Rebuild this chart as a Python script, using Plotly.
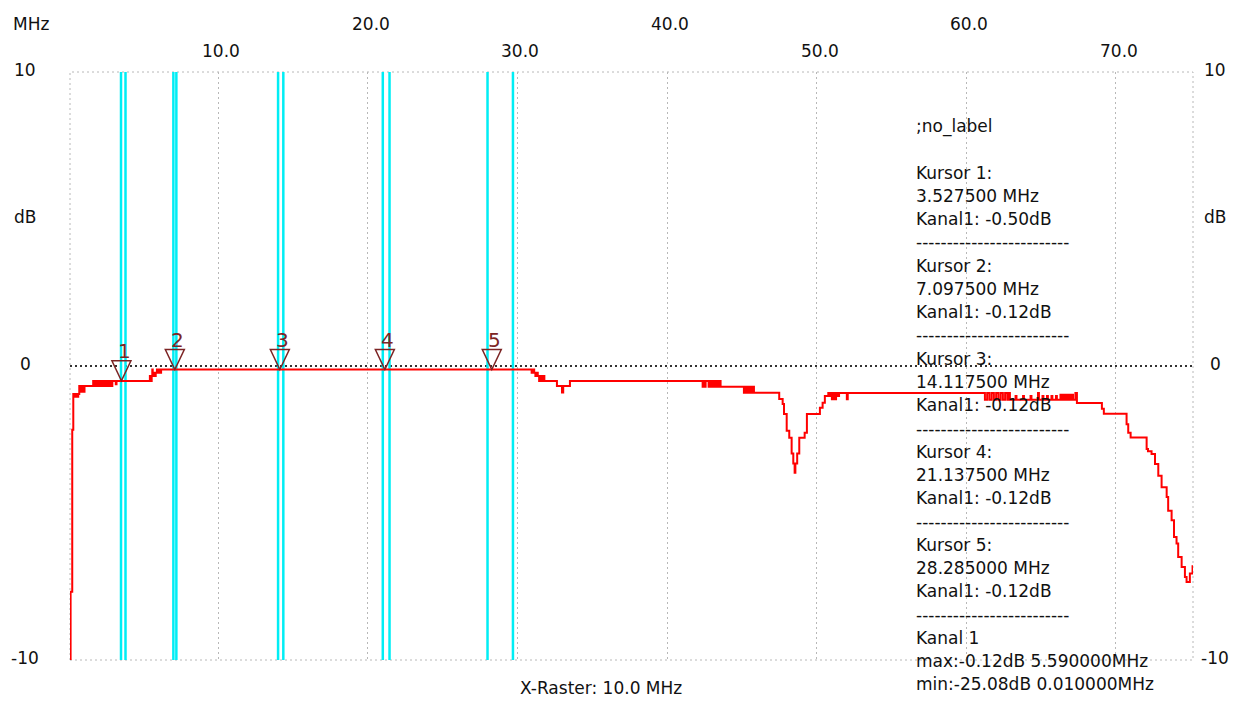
import plotly.graph_objects as go

# ---- sweep: frequency in MHz, level in dB (value changes at each listed frequency) ----
lf_mhz = [0.01, 0.13, 0.24, 0.31, 0.37, 0.42, 0.48, 0.54, 0.60, 0.64,
          0.71, 0.77, 0.82, 0.88, 0.94, 1.00, 1.06,
          1.64, 1.72, 1.80, 1.88, 1.96, 2.04, 2.12, 2.20, 2.28, 2.36, 2.44, 2.52,
          2.60, 2.68, 2.76, 2.84, 2.92, 2.98, 3.15, 3.20,
          5.43, 5.50, 5.55, 5.59, 5.62, 5.70, 5.76, 5.82, 5.90, 5.96, 6.05, 6.12, 6.18]
lf_db = [-25.08, -7.68, -2.17, -0.95, -1.05, -0.95, -1.05, -0.95, -1.05, -0.95,
         -0.68, -0.88, -0.68, -0.88, -0.68, -0.88, -0.68,
         -0.51, -0.68, -0.51, -0.68, -0.51, -0.68, -0.51, -0.68, -0.51, -0.68, -0.51, -0.68,
         -0.51, -0.68, -0.51, -0.68, -0.51, -0.51, -0.62, -0.51,
         -0.34, -0.51, -0.34, -0.12, -0.34, -0.23, -0.34, -0.23, -0.12, -0.23, -0.12, -0.23, -0.12]

mid_mhz = [30.95, 31.05, 31.12, 31.20, 31.28, 31.36, 31.45, 31.52, 31.60, 31.70, 31.80,
           32.64, 32.98, 33.06, 33.51]
mid_db = [-0.23, -0.12, -0.23, -0.34, -0.23, -0.34, -0.51, -0.34, -0.51, -0.34, -0.51,
          -0.68, -0.90, -0.68, -0.51]

upper_mhz = [42.38, 42.45, 42.52, 42.58, 42.78, 42.86, 42.94, 43.02, 43.10, 43.18, 43.26,
             43.34, 43.42, 43.50, 43.58, 43.67,
             45.14, 45.22, 45.30, 45.38, 45.46, 45.54, 45.62, 45.70, 45.81]
upper_db = [-0.71, -0.51, -0.71, -0.51, -0.71, -0.51, -0.71, -0.51, -0.71, -0.51, -0.71,
            -0.51, -0.71, -0.51, -0.71, -0.71,
            -0.91, -0.71, -0.91, -0.71, -0.91, -0.71, -0.91, -0.71, -0.91]

notch_mhz = [47.50, 47.73, 47.82, 48.00, 48.17, 48.33, 48.44, 48.53, 48.58, 48.70,
             48.84, 49.20, 49.35, 50.22, 50.40, 50.55, 50.78, 50.86, 50.94, 51.02,
             51.10, 51.20, 51.30, 51.40, 51.50, 52.02, 52.08]
notch_db = [-1.12, -1.29, -1.63, -2.20, -2.44, -2.98, -3.32, -3.63, -3.32, -2.98,
            -2.44, -2.27, -1.63, -1.42, -1.25, -1.02, -0.92, -1.02, -0.92, -1.13,
            -0.92, -1.13, -0.92, -1.02, -0.92, -1.13, -0.92]

top_mhz = [61.25, 61.40, 61.55, 61.70, 61.85, 62.00, 62.15, 62.30, 62.45, 62.60, 62.75, 62.85, 62.92,
           63.30, 63.36, 63.80, 63.86, 64.30, 64.36,
           64.80, 64.86, 65.10, 65.16, 65.40, 65.46, 65.70, 65.76, 66.00, 66.06,
           66.30, 66.42, 66.54, 66.66, 66.78, 66.90, 67.02, 67.14, 67.30, 67.40,
           69.07, 69.20, 70.72, 70.83, 70.99,
           72.06, 72.15, 72.39, 72.62, 72.84, 73.06, 73.40, 73.50, 73.73, 73.89,
           74.06, 74.17, 74.40, 74.62, 74.73, 74.95, 75.13]
top_db = [-1.15, -0.92, -1.15, -0.92, -1.15, -0.92, -1.15, -0.92, -1.15, -0.92, -1.15, -0.92, -1.15,
          -1.02, -1.15, -1.02, -1.15, -1.02, -1.15,
          -0.92, -1.15, -1.02, -1.15, -1.02, -1.15, -1.02, -1.15, -1.02, -1.15,
          -0.98, -1.15, -0.98, -1.15, -0.98, -1.15, -0.98, -1.15, -0.92, -1.26,
          -1.45, -1.62, -1.98, -2.27, -2.43,
          -2.82, -2.90, -2.99, -3.33, -3.73, -4.12, -4.46, -4.92, -5.25, -5.82,
          -6.04, -6.50, -6.84, -7.18, -7.35, -7.06, -6.78]

# ---- cursors ----
cursor_ids = ["1", "2", "3", "4", "5"]
cursor_mhz = [3.5275, 7.0975, 14.1175, 21.1375, 28.285]
cursor_db = [-0.50, -0.12, -0.12, -0.12, -0.12]

# ---- channel summary ----
max_db, max_mhz = -0.12, 5.59
min_db, min_mhz = -25.08, 0.01

# ---- amateur band edges (MHz) ----
band_edges_mhz = [3.5, 3.8, 7.0, 7.2, 14.0, 14.35, 21.0, 21.45, 28.0, 29.7]

# ---- axis labels ----
x_tick_vals = [10, 20, 30, 40, 50, 60, 70]
x_tick_text = ["10.0", "20.0", "30.0", "40.0", "50.0", "60.0", "70.0"]
y_tick_vals = [10, 5, 0, -10]
y_tick_text = ["10", "dB", "0", "-10"]
x_unit = "MHz"
x_raster = "X-Raster: 10.0 MHz"
trace_label = ";no_label"

freq = lf_mhz + mid_mhz + upper_mhz + notch_mhz + top_mhz
level = lf_db + mid_db + upper_db + notch_db + top_db
assert len(freq) == len(level)

W, H = 1240, 702
L, R, T, B = 70, 47, 72, 42
PW, PH = W - L - R, H - T - B

FONT = "DejaVu Sans"
FS = 17
TXT = "#111111"
MAROON = "#7c2424"


def px_x(px):
    return (px - L) / PW


def px_y(py):
    return (H - B - py) / PH


def label(**kw):
    kw.setdefault("showarrow", False)
    kw.setdefault("xanchor", "center")
    kw.setdefault("yanchor", "middle")
    kw.setdefault("font", dict(family=FONT, size=FS, color=TXT))
    return kw


fig = go.Figure()

fig.add_trace(go.Scatter(
    x=freq, y=level, mode="lines", line=dict(color="#ff0000", width=2, shape="hv"),
    hoverinfo="skip", showlegend=False,
))

shapes = []
# dotted frame
shapes.append(dict(type="rect", xref="paper", yref="paper", x0=0, x1=1, y0=0, y1=1,
                   line=dict(color="#b8b8b8", width=1, dash="2px,3px"), layer="below"))
# 0 dB reference
shapes.append(dict(type="line", xref="paper", yref="y", x0=0, x1=1, y0=0, y1=0,
                   line=dict(color="#333333", width=2, dash="2px,3px"), layer="below"))
# band edges
for f in band_edges_mhz:
    shapes.append(dict(type="line", xref="x", yref="paper", x0=f, x1=f, y0=0, y1=1,
                       line=dict(color="#00eef5", width=2.5), layer="below"))
# cursor triangles, tip on the measured value
for f, v in zip(cursor_mhz, cursor_db):
    shapes.append(dict(type="path", xref="x", yref="y", xsizemode="pixel", ysizemode="pixel",
                       xanchor=f, yanchor=v, path="M -9.5,20 L 9.5,20 L 0,0 Z",
                       line=dict(color=MAROON, width=1.5), layer="above"))

ann = []
for cid, f, v in zip(cursor_ids, cursor_mhz, cursor_db):
    ann.append(label(x=f, y=v, xref="x", yref="y", text=cid, xshift=3, yshift=30,
                     font=dict(family=FONT, size=20, color=MAROON)))

# top frequency labels on two staggered rows
for i, (xv, xt) in enumerate(zip(x_tick_vals, x_tick_text)):
    row_py = 51 if i % 2 == 0 else 24
    ann.append(label(x=xv, y=px_y(row_py), xref="x", yref="paper", text=xt, xshift=3))
ann.append(label(x=px_x(31), y=px_y(24), xref="paper", yref="paper", text=x_unit))

# level labels on both sides
for yv, yt in zip(y_tick_vals, y_tick_text):
    for side_px in (25, 1215):
        ann.append(label(x=px_x(side_px), y=yv, xref="paper", yref="y", text=yt, yshift=2))

ann.append(label(x=px_x(601), y=px_y(688), xref="paper", yref="paper", text=x_raster))

# cursor read-out block
dashes = "-" * 25
info = [trace_label, ""]
for cid, f, v in zip(cursor_ids, cursor_mhz, cursor_db):
    info += [f"Kursor {cid}:", f"{f:.6f} MHz", f"Kanal1: {v:.2f}dB", dashes]
info += ["Kanal 1",
         f"max:{max_db:.2f}dB {max_mhz:.6f}MHz",
         f"min:{min_db:.2f}dB {min_mhz:.6f}MHz"]
for i, line in enumerate(info):
    if not line:
        continue
    ann.append(label(x=px_x(914), y=px_y(126 + 23.27 * i), xref="paper", yref="paper",
                     text=line, xanchor="left"))

fig.update_layout(
    width=W, height=H,
    margin=dict(l=L, r=R, t=T, b=B, pad=0),
    paper_bgcolor="white", plot_bgcolor="white",
    shapes=shapes, annotations=ann,
    xaxis=dict(range=[0.09, 75.16], tickvals=x_tick_vals, showticklabels=False, ticks="",
               showgrid=True, gridcolor="#b8b8b8", gridwidth=1, griddash="2px,3px",
               zeroline=False, showline=False, fixedrange=True),
    yaxis=dict(range=[-10, 10], showticklabels=False, ticks="", showgrid=False,
               zeroline=False, showline=False, fixedrange=True),
    showlegend=False,
)

fig.write_html("out.html", config={"displayModeBar": False})
